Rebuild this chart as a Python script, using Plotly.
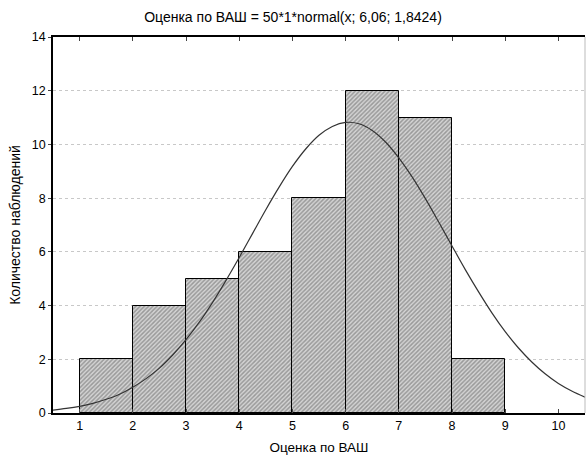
import plotly.graph_objects as go

# Histogram data (bins of width 1)
bin_left = [1, 2, 3, 4, 5, 6, 7, 8]
counts = [2, 4, 5, 6, 8, 12, 11, 2]

# Fitted normal curve
curve_x = [0.5, 0.75, 1.0, 1.25, 1.5, 1.75, 2.0, 2.25, 2.5, 2.75, 3.0, 3.25, 3.5, 3.75,
           4.0, 4.25, 4.5, 4.75, 5.0, 5.25, 5.5, 5.75, 6.0, 6.25, 6.5, 6.75, 7.0, 7.25,
           7.5, 7.75, 8.0, 8.25, 8.5, 8.75, 9.0, 9.25, 9.5, 9.75, 10.0, 10.25, 10.5]
curve_y = [0.11, 0.17, 0.25, 0.36, 0.51, 0.70, 0.96, 1.28, 1.67, 2.16, 2.73, 3.38, 4.12, 4.93,
           5.79, 6.68, 7.57, 8.41, 9.18, 9.83, 10.34, 10.67, 10.82, 10.77, 10.52, 10.09, 9.50, 8.79,
           7.98, 7.11, 6.22, 5.34, 4.51, 3.73, 3.03, 2.42, 1.90, 1.46, 1.10, 0.82, 0.59]

x_ticks = [1, 2, 3, 4, 5, 6, 7, 8, 9, 10]
y_ticks = [0, 2, 4, 6, 8, 10, 12, 14]

title = "Оценка по ВАШ = 50*1*normal(x; 6,06; 1,8424)"
x_title = "Оценка по ВАШ"
y_title = "Количество наблюдений"

font = "Liberation Sans, Arial, sans-serif"

fig = go.Figure()
fig.add_trace(go.Bar(
    x=[b + 0.5 for b in bin_left], y=counts, width=1,
    marker=dict(color="white", line=dict(color="black", width=1),
                pattern=dict(shape="/", size=3, solidity=0.5,
                             fgcolor="#5e5e5e", bgcolor="#d4d4d4")),
    showlegend=False, hoverinfo="skip"))
fig.add_trace(go.Scatter(
    x=curve_x, y=curve_y, mode="lines", line=dict(color="#333333", width=1.2, shape="spline"),
    showlegend=False, hoverinfo="skip"))

fig.update_layout(
    width=586, height=461, autosize=False,
    margin=dict(l=53, r=1, t=37, b=48),
    paper_bgcolor="white", plot_bgcolor="white",
    font=dict(family=font, size=12, color="black"),
    title=dict(text=title, x=0.5, xanchor="center", y=0.963, yanchor="middle",
               font=dict(size=14, family=font, color="black")),
    bargap=0,
    xaxis=dict(range=[0.5, 10.5], tickvals=x_ticks, ticks="inside", ticklen=4,
               showline=True, linecolor="black", linewidth=1.5, mirror="ticks",
               showgrid=False, zeroline=False, tickfont=dict(size=12.5),
               title=dict(text=x_title, font=dict(size=13.5), standoff=11)),
    yaxis=dict(range=[0, 14], tickvals=y_ticks, ticks="outside", ticklen=3,
               showline=True, linecolor="black", linewidth=1.5, mirror=False,
               showgrid=True, gridcolor="#c8c8c8", griddash="dot", gridwidth=1,
               zeroline=False, tickfont=dict(size=12.5),
               title=dict(text=y_title, font=dict(size=14), standoff=8)),
)
# light right border
fig.add_shape(type="line", xref="paper", yref="paper", x0=1, x1=1, y0=0, y1=1,
              line=dict(color="#bbbbbb", width=1))

post = ("document.body.style.margin='0';document.body.style.overflow='hidden';"
        "Plotly.relayout(document.getElementById('{plot_id}'), {width:586, height:461});")
fig.write_html("out.html", config={"responsive": False, "displayModeBar": False},
               post_script=post)
